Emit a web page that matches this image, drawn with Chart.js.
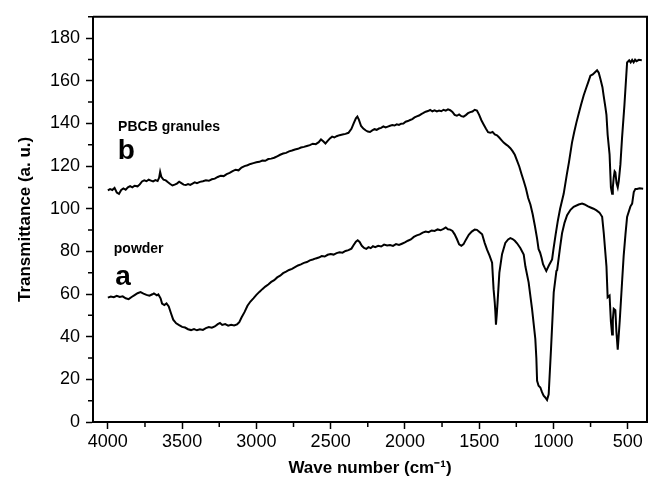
<!DOCTYPE html>
<html>
<head>
<meta charset="utf-8">
<script src="https://cdn.jsdelivr.net/npm/chart.js@4.4.1/dist/chart.umd.min.js"></script>
<style>
  html, body { margin: 0; padding: 0; background: #fff; }
  #wrap { width: 651px; height: 486px; }
</style>
</head>
<body>
<div id="wrap"><canvas id="ftir"></canvas></div>
<script>
// FTIR: (a) powder, (b) PBCB granules
const xTicks = [4000, 3500, 3000, 2500, 2000, 1500, 1000, 500];
const xMinorTicks = [3750, 3250, 2750, 2250, 1750, 1250, 750];
const yTicks = [0, 20, 40, 60, 80, 100, 120, 140, 160, 180];
const yMinorTicks = [10, 30, 50, 70, 90, 110, 130, 150, 170, 190];

// curve a — powder
const waveA = [4000, 3980, 3960, 3940, 3920, 3900, 3880, 3860, 3840, 3820, 3800, 3780, 3760, 3740, 3720, 3700, 3690, 3670, 3660, 3645,
  3635, 3620, 3605, 3590, 3575, 3560, 3540, 3520, 3500, 3480, 3460, 3440, 3420, 3400, 3380, 3360, 3340, 3320, 3300, 3280,
  3260, 3245, 3230, 3210, 3190, 3170, 3150, 3130, 3115, 3100, 3080, 3060, 3040, 3020, 3000, 2980, 2960, 2940, 2920, 2900,
  2880, 2860, 2840, 2820, 2800, 2780, 2760, 2740, 2720, 2700, 2680, 2660, 2640, 2620, 2600, 2580, 2560, 2540, 2520, 2500,
  2480, 2460, 2440, 2420, 2400, 2380, 2360, 2345, 2330, 2318, 2305, 2290, 2275, 2260, 2245, 2230, 2215, 2200, 2180, 2160,
  2140, 2120, 2100, 2080, 2060, 2040, 2020, 2000, 1980, 1960, 1940, 1920, 1900, 1880, 1860, 1840, 1820, 1800, 1780, 1760,
  1740, 1725, 1710, 1695, 1680, 1665, 1650, 1635, 1620, 1605, 1590, 1570, 1550, 1530, 1515, 1500, 1480, 1463, 1447, 1430,
  1413, 1403, 1395, 1391, 1387, 1382, 1376, 1364, 1346, 1324, 1305, 1290, 1275, 1260, 1245, 1223, 1200, 1189, 1167, 1144,
  1122, 1115, 1110, 1100, 1088, 1077, 1066, 1055, 1043, 1032, 1016, 998, 980, 975, 968, 955, 942, 925, 908, 885,
  864, 830, 807, 790, 770, 750, 730, 710, 690, 672, 661, 643, 635, 622, 613, 605, 600, 594, 583, 576,
  567, 561, 554, 538, 527, 515, 504, 482, 470, 459, 448, 437, 420, 396];
const powder = [58.3, 58.8, 58.5, 59.2, 58.6, 58.9, 58.0, 57.6, 58.6, 59.5, 60.4, 60.9, 60.2, 59.6, 59.2, 59.9, 60.3, 59.4, 59.8, 58.0,
  55.5, 54.8, 55.6, 54.2, 51.0, 48.0, 46.3, 45.4, 44.6, 44.3, 43.5, 43.1, 43.6, 43.0, 43.5, 43.2, 44.0, 44.5, 44.2, 44.8,
  45.9, 46.4, 45.5, 45.9, 45.2, 45.6, 45.3, 45.8, 46.8, 49.0, 51.5, 54.5, 56.5, 58.0, 59.6, 61.0, 62.3, 63.5, 64.5, 65.7,
  66.5, 67.8, 68.6, 69.8, 70.5, 71.3, 71.8, 72.6, 73.4, 73.9, 74.6, 75.0, 75.8, 76.2, 76.7, 77.1, 77.8, 77.6, 78.4, 78.8,
  78.5, 79.2, 79.6, 79.4, 80.2, 80.6, 81.3, 83.0, 84.6, 85.2, 84.4, 82.6, 81.6, 81.2, 82.0, 81.5, 82.4, 82.0, 82.6, 82.3,
  83.2, 82.8, 83.0, 82.6, 83.4, 83.0, 83.6, 84.2, 85.0, 85.6, 86.8, 87.5, 88.0, 88.8, 89.3, 89.0, 89.8, 89.6, 90.3, 89.9,
  90.6, 91.2, 90.4, 90.2, 89.6, 88.0, 85.8, 83.3, 82.6, 83.4, 85.4, 87.8, 89.3, 90.2, 90.1, 89.2, 88.0, 84.0, 80.8, 78.0,
  74.7, 62.3, 56.0, 51.6, 45.6, 50.0, 56.2, 70.0, 78.7, 84.0, 85.6, 86.2, 85.8, 85.0, 83.8, 81.6, 78.5, 73.0, 65.5, 53.0,
  39.0, 30.0, 19.3, 17.0, 16.2, 14.0, 12.3, 11.5, 10.3, 13.0, 34.6, 60.8, 70.8, 71.2, 75.0, 82.0, 88.5, 93.5, 97.0, 99.5,
  100.9, 102.0, 102.4, 102.0, 101.2, 100.6, 100.0, 99.2, 98.2, 96.2, 88.5, 73.0, 58.5, 59.3, 47.0, 41.0, 48.0, 53.1, 52.4, 42.3,
  33.9, 40.0, 47.0, 65.5, 78.0, 88.0, 96.2, 101.0, 102.4, 107.8, 109.3, 109.3, 109.6, 109.4];

// curve b — PBCB granules
const waveB = [4000, 3985, 3970, 3955, 3940, 3925, 3910, 3895, 3880, 3865, 3850, 3835, 3820, 3800, 3785, 3770, 3755, 3740, 3725, 3710,
  3695, 3680, 3665, 3655, 3648, 3640, 3625, 3610, 3595, 3580, 3565, 3550, 3535, 3520, 3505, 3490, 3475, 3460, 3445, 3430,
  3415, 3400, 3380, 3360, 3340, 3320, 3300, 3280, 3260, 3240, 3220, 3200, 3180, 3160, 3140, 3120, 3100, 3080, 3060, 3040,
  3020, 3000, 2980, 2960, 2940, 2920, 2900, 2880, 2860, 2840, 2820, 2800, 2780, 2760, 2740, 2720, 2700, 2680, 2660, 2640,
  2620, 2600, 2580, 2565, 2550, 2535, 2520, 2505, 2490, 2475, 2460, 2440, 2420, 2400, 2380, 2360, 2345, 2330, 2320, 2310,
  2295, 2280, 2265, 2250, 2235, 2220, 2205, 2190, 2175, 2160, 2145, 2130, 2115, 2100, 2085, 2070, 2055, 2040, 2025, 2010,
  1995, 1980, 1965, 1950, 1935, 1920, 1905, 1890, 1875, 1860, 1845, 1830, 1815, 1800, 1785, 1770, 1755, 1740, 1725, 1710,
  1695, 1680, 1665, 1650, 1635, 1620, 1605, 1590, 1575, 1560, 1545, 1530, 1515, 1500, 1485, 1470, 1455, 1440, 1425, 1410,
  1395, 1380, 1365, 1350, 1335, 1320, 1305, 1290, 1275, 1260, 1245, 1230, 1215, 1200, 1185, 1170, 1155, 1140, 1125, 1110,
  1100, 1090, 1080, 1070, 1060, 1048, 1040, 1030, 1020, 1009, 1000, 985, 970, 955, 931, 910, 895, 875, 860, 845,
  830, 815, 796, 780, 765, 751, 735, 720, 706, 695, 684, 670, 662, 650, 643, 635, 622, 613, 605, 600,
  594, 588, 583, 575, 567, 560, 549, 538, 522, 510, 504, 490, 480, 470, 460, 450, 440, 425, 405];
const granules = [108.6, 109.2, 108.8, 109.8, 107.6, 107.0, 108.8, 109.5, 108.9, 110.0, 110.6, 110.0, 110.8, 110.5, 111.4, 112.8, 113.3, 112.9, 113.6, 113.2,
  112.8, 113.4, 113.0, 114.5, 117.3, 115.0, 113.6, 113.3, 112.4, 111.6, 110.9, 111.3, 111.8, 112.7, 112.0, 111.3, 111.1, 111.6, 111.2, 111.8,
  112.4, 112.0, 112.6, 112.9, 113.3, 113.1, 113.8, 114.1, 114.9, 115.5, 115.3, 116.2, 116.8, 117.6, 118.3, 118.0, 119.3, 120.0, 120.4, 121.0,
  121.4, 121.8, 122.0, 122.6, 122.5, 123.3, 123.5, 123.9, 124.6, 125.3, 125.9, 126.2, 126.9, 127.3, 127.8, 128.1, 128.7, 129.0, 129.4, 129.8,
  130.5, 130.3, 131.2, 132.5, 131.6, 130.6, 131.8, 133.0, 133.8, 133.4, 134.0, 134.5, 134.8, 135.1, 135.6, 137.5, 140.0, 142.4, 143.2, 141.8,
  138.8, 137.6, 136.8, 136.2, 136.0, 136.7, 137.3, 137.0, 137.6, 137.9, 138.6, 138.1, 138.5, 138.9, 139.2, 139.0, 139.6, 139.3, 139.9, 140.0,
  140.8, 141.1, 141.6, 142.0, 142.8, 143.3, 143.7, 144.4, 144.9, 145.5, 145.8, 146.3, 145.7, 146.1, 145.6, 146.0, 145.7, 146.4, 146.0, 146.6,
  146.2, 145.4, 144.0, 143.6, 144.2, 143.4, 143.2, 143.9, 144.8, 145.3, 145.6, 146.4, 146.0, 144.0, 141.5, 139.5, 137.6, 135.9, 135.6, 136.0,
  134.8, 134.4, 133.4, 132.2, 131.0, 130.2, 129.4, 128.4, 127.0, 125.3, 122.6, 119.8, 116.3, 113.0, 109.5, 105.0, 102.0, 97.5, 92.0, 86.0,
  81.0, 79.5, 77.0, 74.0, 72.5, 70.8, 72.0, 73.5, 74.8, 76.2, 81.0, 88.0, 94.5, 100.0, 107.0, 116.0, 122.0, 131.0, 136.0, 140.5,
  144.5, 148.5, 153.2, 156.5, 159.5, 162.4, 163.0, 164.0, 164.9, 163.8, 160.9, 157.0, 153.0, 147.5, 144.0, 134.7, 125.5, 110.0, 107.0, 110.0,
  114.7, 117.5, 117.0, 112.0, 110.0, 113.0, 120.8, 133.2, 148.6, 162.0, 168.6, 169.6, 168.6, 169.8, 168.7, 169.9, 169.2, 169.8, 169.6];

const FONT = '"Liberation Sans", Arial, Helvetica, sans-serif';
const INK = '#000';

const pairs = (xs, ys) => xs.map((x, i) => ({ x, y: ys[i] }));

// box on top/right, minor ticks, curve labels
const framePlugin = {
  id: 'frame',
  afterDraw(chart) {
    const { ctx, chartArea: a, scales: { x, y } } = chart;
    ctx.save();
    ctx.strokeStyle = INK;
    ctx.lineWidth = 2;
    ctx.beginPath();
    ctx.moveTo(a.left, a.top);
    ctx.lineTo(a.right, a.top);
    ctx.lineTo(a.right, a.bottom);
    ctx.stroke();

    ctx.lineWidth = 1.5;
    ctx.beginPath();
    xMinorTicks.forEach(v => {
      const px = x.getPixelForValue(v);
      ctx.moveTo(px, a.bottom);
      ctx.lineTo(px, a.bottom + 5);
    });
    yMinorTicks.forEach(v => {
      const py = y.getPixelForValue(v);
      ctx.moveTo(a.left, py);
      ctx.lineTo(a.left - 5, py);
    });
    ctx.stroke();

    ctx.fillStyle = INK;
    ctx.textAlign = 'left';
    ctx.textBaseline = 'alphabetic';
    ctx.font = `bold 14px ${FONT}`;
    ctx.fillText('PBCB granules', x.getPixelForValue(3931), y.getPixelForValue(136.3));
    ctx.fillText('powder', x.getPixelForValue(3960), y.getPixelForValue(79.3));
    ctx.font = `bold 28px ${FONT}`;
    ctx.fillText('b', x.getPixelForValue(3933), y.getPixelForValue(123.2));
    ctx.fillText('a', x.getPixelForValue(3950), y.getPixelForValue(64.2));
    ctx.restore();
  }
};

const curve = (label, data) => ({
  label, data,
  borderColor: INK, borderWidth: 2,
  pointRadius: 0, tension: 0, fill: false
});

new Chart(document.getElementById('ftir'), {
  type: 'line',
  data: {
    datasets: [
      curve('powder', pairs(waveA, powder)),
      curve('PBCB granules', pairs(waveB, granules))
    ]
  },
  options: {
    responsive: true, maintainAspectRatio: false, animation: false,
    layout: { padding: { left: 0, right: 4, top: 11, bottom: 0 } },
    plugins: { legend: { display: false }, tooltip: { enabled: false } },
    scales: {
      x: {
        type: 'linear', reverse: true, min: 370, max: 4100,
        afterBuildTicks: s => { s.ticks = xTicks.map(value => ({ value })); },
        afterFit: s => { s.height = 64; },
        border: { display: true, color: INK, width: 2 },
        grid: { drawOnChartArea: false, drawTicks: true, tickLength: 7, tickWidth: 1.5, tickColor: INK },
        ticks: { color: INK, padding: 2, font: { family: FONT, size: 18 }, maxRotation: 0, callback: v => String(v) },
        title: {
          display: true, text: 'Wave number (cm⁻¹)', color: INK,
          font: { family: FONT, size: 17, weight: 'bold' }, padding: { top: 0, bottom: 7 }
        }
      },
      y: {
        type: 'linear', min: 0, max: 190,
        afterBuildTicks: s => { s.ticks = yTicks.map(value => ({ value })); },
        afterFit: s => { s.width = 93; },
        border: { display: true, color: INK, width: 2 },
        grid: { drawOnChartArea: false, drawTicks: true, tickLength: 7, tickWidth: 1.5, tickColor: INK },
        ticks: { color: INK, padding: 6, font: { family: FONT, size: 18 }, callback: v => String(v) },
        title: {
          display: true, text: 'Transmittance (a. u.)', color: INK,
          font: { family: FONT, size: 17, weight: 'bold' }, padding: { top: 15, bottom: 0 }
        }
      }
    }
  },
  plugins: [framePlugin]
});
</script>
</body>
</html>
